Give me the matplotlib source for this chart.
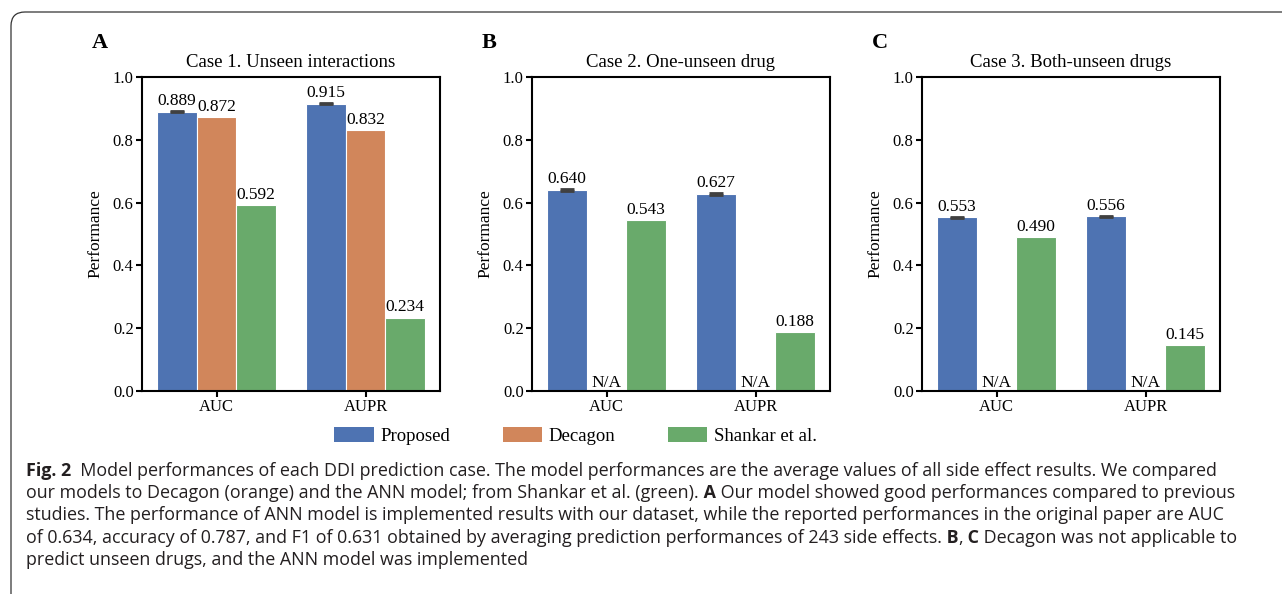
import numpy as np
import matplotlib
matplotlib.use('Agg')
import matplotlib.pyplot as plt
from matplotlib.patches import FancyBboxPatch, Patch

plt.rcParams['font.family'] = ['Liberation Serif', 'DejaVu Serif']

# data
cases = ['Case 1. Unseen interactions', 'Case 2. One-unseen drug', 'Case 3. Both-unseen drugs']
panel_tags = ['A', 'B', 'C']
metrics = ['AUC', 'AUPR']
proposed = [[0.889, 0.915], [0.640, 0.627], [0.553, 0.556]]
proposed_err = [[0.002, 0.002], [0.002, 0.002], [0.002, 0.002]]
decagon = [[0.872, 0.832], [None, None], [None, None]]
shankar = [[0.592, 0.234], [0.543, 0.188], [0.490, 0.145]]
series_names = ['Proposed', 'Decagon', 'Shankar et al.']
colors = ['#4e73b2', '#d1865b', '#69aa6b']

caption = [
    [('Fig. 2', True), ('  Model performances of each DDI prediction case. The model performances are the average values of all side effect results. We compared', False)],
    [('our models to Decagon (orange) and the ANN model; from Shankar et al. (green).', False), (' A', True),
     (' Our model showed good performances compared to previous', False)],
    [('studies. The performance of ANN model is implemented results with our dataset, while the reported performances in the original paper are AUC', False)],
    [('of 0.634, accuracy of 0.787, and F1 of 0.631 obtained by averaging prediction performances of 243 side effects.', False), (' B', True),
     (',', False), (' C', True), (' Decagon was not applicable to', False)],
    [('predict unseen drugs, and the ANN model was implemented', False)],
]

W, H = 1282, 594
fig = plt.figure(figsize=(W / 100, H / 100), dpi=100)

# rounded frame (only top and left edges are visible)
frame = FancyBboxPatch((11, -60), 1400, H - 12 + 60, boxstyle='round,pad=0,rounding_size=14',
                       transform=None, facecolor='none', edgecolor='#333333', linewidth=0.9)
fig.patches.append(frame)

lefts = [142, 532, 922]
x = np.arange(len(metrics))
w = 0.8 / 3

for k in range(3):
    ax = fig.add_axes([lefts[k] / W, (H - 391) / H, 298 / W, 314 / H])
    p = proposed[k]
    ax.bar(x - w, p, w, color=colors[0], edgecolor='white', linewidth=0.8)
    ax.errorbar(x - w, p, yerr=proposed_err[k], fmt='none', ecolor='#404040',
                elinewidth=2, capsize=5, capthick=2)
    for xi, v, e in zip(x - w, p, proposed_err[k]):
        ax.annotate(f'{v:.3f}', (xi, v + e), xytext=(0, 1.5), textcoords='offset points',
                    ha='center', va='bottom', fontsize=12.5)
    for xi, v in zip(x, decagon[k]):
        if v is None:
            ax.text(xi, 0, 'N/A', ha='center', va='bottom', fontsize=12.5)
        else:
            ax.bar(xi, v, w, color=colors[1], edgecolor='white', linewidth=0.8)
            ax.annotate(f'{v:.3f}', (xi, v), xytext=(0, 1.5), textcoords='offset points',
                        ha='center', va='bottom', fontsize=12.5)
    s = shankar[k]
    ax.bar(x + w, s, w, color=colors[2], edgecolor='white', linewidth=0.8)
    for xi, v in zip(x + w, s):
        ax.annotate(f'{v:.3f}', (xi, v), xytext=(0, 1.5), textcoords='offset points',
                    ha='center', va='bottom', fontsize=12.5)

    ax.set_xlim(-0.5, 1.5)
    ax.set_ylim(0, 1.0)
    ax.set_xticks(x)
    ax.set_xticklabels(metrics)
    ax.set_yticks(np.arange(0, 1.01, 0.2))
    ax.set_yticklabels([f'{t:.1f}' for t in np.arange(0, 1.01, 0.2)])
    ax.tick_params(labelsize=12, width=1.5, length=4, pad=2)
    for sp in ax.spines.values():
        sp.set_linewidth(1.5)
    ax.set_ylabel('Performance', fontsize=12.5, labelpad=7)
    ax.set_title(cases[k], fontsize=13.5, pad=7)
    ax.text(-0.168, 1.108, panel_tags[k], transform=ax.transAxes, fontsize=16,
            fontweight='bold', ha='left', va='center')

handles = [Patch(facecolor=c, edgecolor='none') for c in colors]
fig.legend(handles, series_names, loc='center', bbox_to_anchor=(0.449, 0.266), ncol=3,
           frameon=False, fontsize=13.5, handlelength=2.1, handleheight=0.9,
           handletextpad=0.35, columnspacing=2.8)

# caption, one line at a time, bold parts chained after the plain ones
baselines = [476, 498, 520.5, 543, 565]
for line, yb in zip(caption, baselines):
    prev = None
    for txt, bold in line:
        kw = dict(fontsize=12.9, family=['Open Sans', 'DejaVu Sans'], color='#231f20',
                  fontweight='bold' if bold else 'normal', ha='left', va='baseline')
        if prev is None:
            prev = fig.text(26 / W, (H - yb) / H, txt, **kw)
        else:
            prev = fig.add_artist(plt.Annotation(txt, xy=(1, H - yb), xycoords=(prev, 'figure pixels'),
                                                 annotation_clip=False, **kw))

fig.savefig('out.png', dpi=100)
